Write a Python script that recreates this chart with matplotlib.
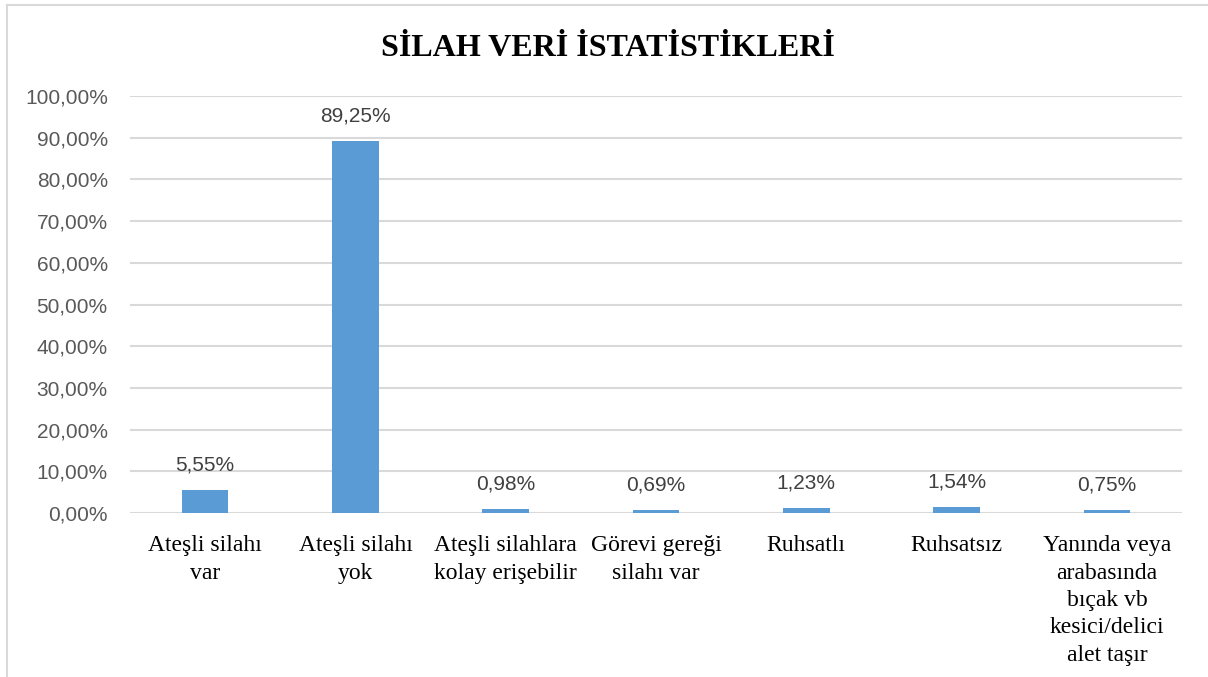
import matplotlib.pyplot as plt
from matplotlib.lines import Line2D

# Data
categories = [
    'Ateşli silahı\nvar',
    'Ateşli silahı\nyok',
    'Ateşli silahlara\nkolay erişebilir',
    'Görevi gereği\nsilahı var',
    'Ruhsatlı',
    'Ruhsatsız',
    'Yanında veya\narabasında\nbıçak vb\nkesici/delici\nalet taşır',
]
values = [5.55, 89.25, 0.98, 0.69, 1.23, 1.54, 0.75]
yticks = [0, 10, 20, 30, 40, 50, 60, 70, 80, 90, 100]

bar_color = '#5B9BD5'
grid_color = '#D9D9D9'
text_gray = '#595959'

fig = plt.figure(figsize=(12.08, 6.77), dpi=100)
ax = fig.add_axes([0.1076, 0.2422, 0.8709, 0.616])

x = list(range(len(categories)))
ax.bar(x, values, width=0.31, color=bar_color, zorder=3)

ax.set_xlim(-0.5, len(categories) - 0.5)
ax.set_ylim(0, 100)
ax.set_yticks(yticks)
ax.set_yticklabels([f'{v:.2f}%'.replace('.', ',') for v in yticks],
                   fontsize=15, color=text_gray, family='Liberation Sans')
ax.set_xticks(x)
ax.set_xticklabels(categories, fontsize=17, family='Liberation Serif',
                   linespacing=1.4, va='top')
ax.tick_params(axis='x', length=0, pad=16)
ax.tick_params(axis='y', length=0, pad=16)

ax.grid(axis='y', color=grid_color, lw=1.5, zorder=0)
for s in ax.spines.values():
    s.set_visible(False)

# data labels
for xi, v in zip(x, values):
    ax.annotate(f'{v:.2f}%'.replace('.', ','), (xi, v), xytext=(0, 18),
                textcoords='offset points', ha='center', va='center',
                fontsize=15, color='#404040', family='Liberation Sans')

fig.text(0.503, 0.928, 'SİLAH VERİ İSTATİSTİKLERİ', ha='center', va='center',
         fontsize=23, fontweight='bold', family='Liberation Serif')

# chart area border (left and top only visible)
fig.add_artist(Line2D([7 / 1208, 7 / 1208], [0, 1 - 5 / 677], color=grid_color, lw=1.5))
fig.add_artist(Line2D([7 / 1208, 1], [1 - 5 / 677, 1 - 5 / 677], color=grid_color, lw=1.5))

fig.savefig('out.png', dpi=100)
